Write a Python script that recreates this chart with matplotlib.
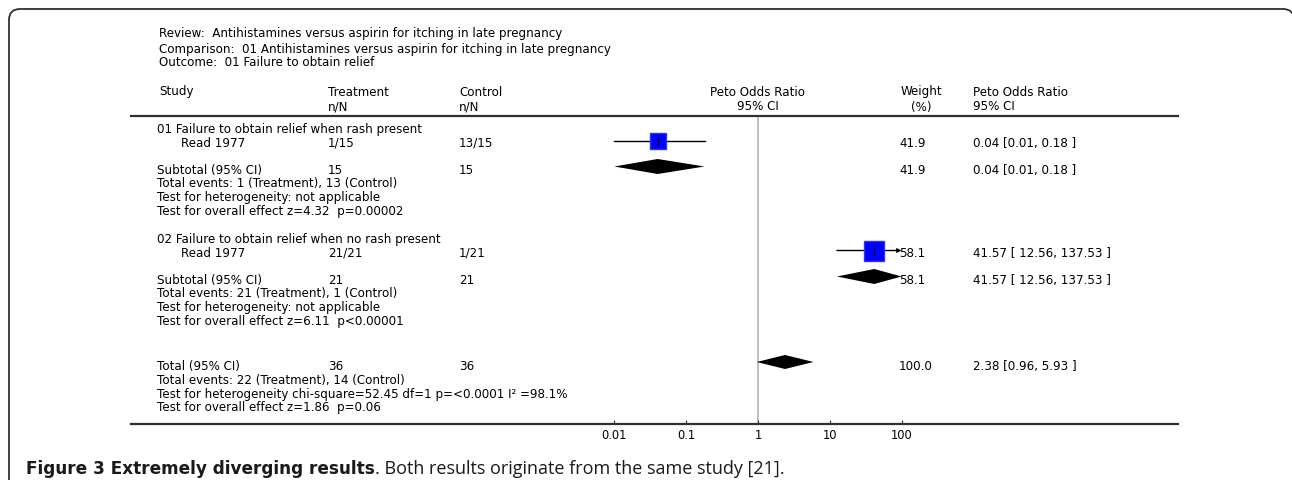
import matplotlib.pyplot as plt
from matplotlib.path import Path
from matplotlib.patches import PathPatch

# data
group_titles = ["01 Failure to obtain relief when rash present",
                "02 Failure to obtain relief when no rash present"]
study_names = ["Read 1977", "Read 1977"]
treat_nN = ["1/15", "21/21"]
ctrl_nN = ["13/15", "1/21"]
or_est = [0.04, 41.57]
or_lo = [0.01, 12.56]
or_hi = [0.18, 137.53]
weights = [41.9, 58.1]
ci_labels = ["0.04 [0.01, 0.18 ]", "41.57 [ 12.56, 137.53 ]"]
sub_treat = [15, 21]
sub_ctrl = [15, 21]
sub_events = ["Total events: 1 (Treatment), 13 (Control)",
              "Total events: 21 (Treatment), 1 (Control)"]
sub_het = ["Test for heterogeneity: not applicable",
           "Test for heterogeneity: not applicable"]
sub_effect = ["Test for overall effect z=4.32  p=0.00002",
              "Test for overall effect z=6.11  p<0.00001"]

total_treat = 36
total_ctrl = 36
total_est = 2.38
total_lo = 0.96
total_hi = 5.93
total_weight = 100.0
total_ci_label = "2.38 [0.96, 5.93 ]"
total_notes = ["Total events: 22 (Treatment), 14 (Control)",
               "Test for heterogeneity chi-square=52.45 df=1 p=<0.0001 I\u00b2 =98.1%",
               "Test for overall effect z=1.86  p=0.06"]

header_lines = ["Review:  Antihistamines versus aspirin for itching in late pregnancy",
                "Comparison:  01 Antihistamines versus aspirin for itching in late pregnancy",
                "Outcome:  01 Failure to obtain relief"]
ticks = [0.01, 0.1, 1, 10, 100]
tick_labels = ["0.01", "0.1", "1", "10", "100"]
x_clip = 100

W, H = 1292, 481
FONT = ['DejaVu Sans']
FS = 8.6

fig = plt.figure(figsize=(W / 100, H / 100), dpi=100)

# overlay in pixel coordinates for the table text
tax = fig.add_axes([0, 0, 1, 1])
tax.set_xlim(0, W)
tax.set_ylim(H, 0)
tax.axis('off')

# forest axes: spans the table rules, log scale
left, right, top, bottom = 131, 1178, 117, 425
ax = fig.add_axes([left / W, 1 - bottom / H, (right - left) / W, (bottom - top) / H])
ax.set_xscale('log')
px_per_dec = 71.8
ax.set_xlim(10 ** ((left - 758) / px_per_dec), 10 ** ((right - 758) / px_per_dec))
ax.set_ylim(bottom, top)
ax.patch.set_alpha(0)
for s in ['left', 'right']:
    ax.spines[s].set_visible(False)
for s in ['top', 'bottom']:
    ax.spines[s].set_linewidth(1.6)
    ax.spines[s].set_color('#303030')
ax.set_yticks([])
ax.set_xticks(ticks)
ax.set_xticklabels(tick_labels, fontfamily=FONT, fontsize=FS - 0.3)
ax.minorticks_off()
ax.tick_params(axis='x', direction='in', length=3, width=0.8, pad=3, colors='#303030',
               labelcolor='black')
ax.axvline(1, color='#b4b4b4', lw=1.2, zorder=0)


def txt(x, y, s, **kw):
    tax.text(x, y, s, fontfamily=FONT, fontsize=FS, va='center', **kw)


# header block
for y, line in zip([34, 49, 63], header_lines):
    txt(159, y, line)
txt(159, 92, "Study")
txt(328, 92, "Treatment")
txt(328, 107, "n/N")
txt(459, 92, "Control")
txt(459, 107, "n/N")
txt(758, 92, "Peto Odds Ratio", ha='center')
txt(758, 107, "95% CI", ha='center')
txt(921, 92, "Weight", ha='center')
txt(921, 107, "(%)", ha='center')
txt(973, 92, "Peto Odds Ratio")
txt(973, 107, "95% CI")

group_y = [130, 240]
off = -2
for i in range(len(group_titles)):
    y0 = group_y[i]
    txt(157, y0, group_titles[i])
    txt(181, y0 + 13.5, study_names[i])
    txt(328, y0 + 13.5, treat_nN[i])
    txt(459, y0 + 13.5, ctrl_nN[i])
    txt(899, y0 + 13.5, f"{weights[i]:.1f}")
    txt(973, y0 + 13.5, ci_labels[i])
    txt(157, y0 + 40.5, "Subtotal (95% CI)")
    txt(328, y0 + 40.5, str(sub_treat[i]))
    txt(459, y0 + 40.5, str(sub_ctrl[i]))
    txt(899, y0 + 40.5, f"{weights[i]:.1f}")
    txt(973, y0 + 40.5, ci_labels[i])
    txt(157, y0 + 54, sub_events[i])
    txt(157, y0 + 67.5, sub_het[i])
    txt(157, y0 + 81.5, sub_effect[i])

    # study marker
    ys = y0 + 13.5 + off
    hi = min(or_hi[i], x_clip)
    if or_hi[i] > x_clip:
        ax.annotate("", xy=(hi, ys), xytext=(or_lo[i], ys),
                    arrowprops=dict(arrowstyle='-|>', color='black', lw=1,
                                    mutation_scale=6, shrinkA=0, shrinkB=0))
    else:
        ax.plot([or_lo[i], hi], [ys, ys], color='black', lw=1)
    ax.plot(or_est[i], ys, marker='s', ms=12.2 * (weights[i] / 41.9) ** 0.5,
            color='#0000ff', mec='#3030ff', ls='none', zorder=3)
    ax.plot(or_est[i], ys, marker='|', ms=6, color='black', mew=0.9, zorder=4)

    # subtotal diamond
    yd = y0 + 40.5 + off - 1
    ax.fill([or_lo[i], or_est[i], hi, or_est[i]], [yd, yd - 7.5, yd, yd + 7.5],
            color='black', lw=0)

# overall
yt = 367
txt(157, yt, "Total (95% CI)")
txt(328, yt, str(total_treat))
txt(459, yt, str(total_ctrl))
txt(899, yt, f"{total_weight:.1f}")
txt(973, yt, total_ci_label)
for k, line in enumerate(total_notes):
    txt(157, yt + 14 + 13.5 * k, line)
yd = yt + off - 2
ax.fill([total_lo, total_est, total_hi, total_est], [yd, yd - 7, yd, yd + 7],
        color='black', lw=0)

# frame around the figure panel: rounded top corners, right side just off the picture
verts = [(9, 495), (9, 21), (9, 10), (20, 10), (1283, 10), (1294, 10), (1294, 21), (1294, 495)]
codes = [Path.MOVETO, Path.LINETO, Path.CURVE3, Path.CURVE3, Path.LINETO,
         Path.CURVE3, Path.CURVE3, Path.LINETO]
tax.add_patch(PathPatch(Path(verts, codes), fill=False, ec='#303030', lw=1.3))

# caption: bold lead-in, then normal text on the same baseline
cap_y = 474
cap1 = tax.text(26, cap_y, "Figure 3 Extremely diverging results", fontfamily=['DejaVu Sans'],
                fontsize=12.2, fontweight='bold', va='baseline', color='#1a1a1a')
fig.canvas.draw()
bb = cap1.get_window_extent()
x_end = tax.transData.inverted().transform((bb.x1, bb.y0))[0]
tax.text(x_end, cap_y, ". Both results originate from the same study [21].",
         fontfamily=['Open Sans', 'DejaVu Sans'], fontsize=13.0, va='baseline',
         color='#1a1a1a')

fig.savefig('out.png', dpi=100)
